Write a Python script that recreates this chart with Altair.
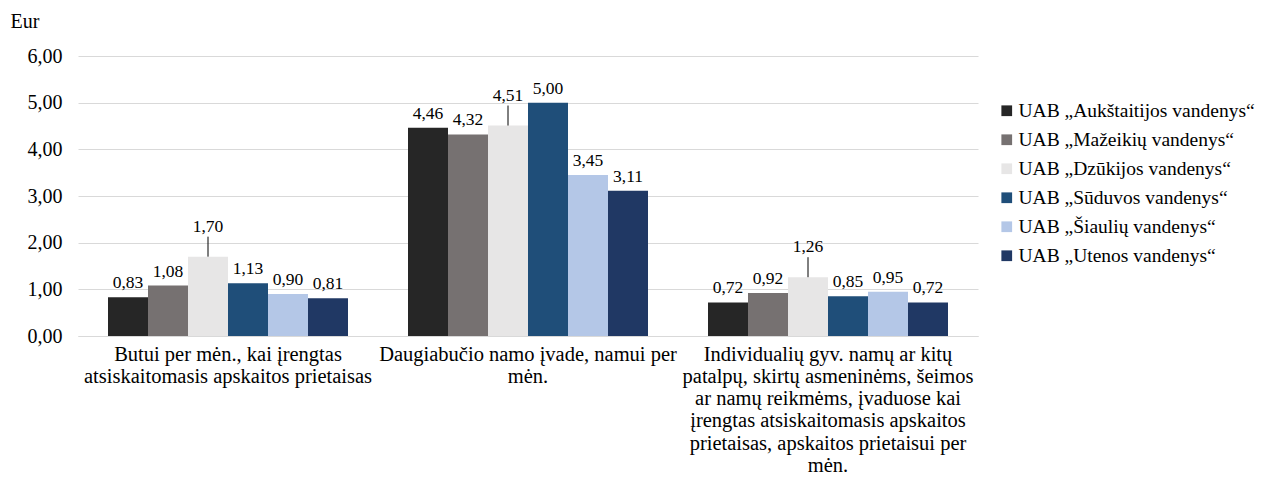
import altair as alt
import pandas as pd

series = [
    "UAB „Aukštaitijos vandenys“",
    "UAB „Mažeikių vandenys“",
    "UAB „Dzūkijos vandenys“",
    "UAB „Sūduvos vandenys“",
    "UAB „Šiaulių vandenys“",
    "UAB „Utenos vandenys“",
]
colors = ["#262626", "#767171", "#e7e6e6", "#1f4e79", "#b4c7e7", "#203864"]

category_lines = [
    ["Butui per mėn., kai įrengtas", "atsiskaitomasis apskaitos prietaisas"],
    ["Daugiabučio namo įvade, namui per", "mėn."],
    ["Individualių gyv. namų ar kitų", "patalpų, skirtų asmeninėms, šeimos",
     "ar namų reikmėms, įvaduose kai", "įrengtas atsiskaitomasis apskaitos",
     "prietaisas, apskaitos prietaisui per", "mėn."],
]
categories = ["|".join(lines) for lines in category_lines]

aukstaitijos = [0.83, 4.46, 0.72]
mazeikiu = [1.08, 4.32, 0.92]
dzukijos = [1.70, 4.51, 1.26]
suduvos = [1.13, 5.00, 0.85]
siauliu = [0.90, 3.45, 0.95]
utenos = [0.81, 3.11, 0.72]
values = [aukstaitijos, mazeikiu, dzukijos, suduvos, siauliu, utenos]

rows = []
for s, vals in zip(series, values):
    for c, v in zip(categories, vals):
        rows.append({"cat": c, "series": s, "value": v})
df = pd.DataFrame(rows)

FONT = "Liberation Serif, Times New Roman, serif"

x = alt.X("cat:N", sort=categories, title=None,
          scale=alt.Scale(paddingInner=0.2, paddingOuter=0.1),
          axis=alt.Axis(labelExpr="split(datum.label, '|')", labelAngle=0,
                        ticks=False, domain=True, domainColor="#d9d9d9",
                        labelPadding=8, labelLineHeight=22.3, labelBaseline="top",
                        labelFont=FONT, labelFontSize=20.5, labelLimit=400))
xo = alt.XOffset("series:N", sort=series,
                 scale=alt.Scale(paddingInner=0, paddingOuter=0))
y = alt.Y("value:Q", scale=alt.Scale(domain=[0, 6]),
          axis=alt.Axis(values=[0, 1, 2, 3, 4, 5, 6], ticks=False, domain=False,
                        labelExpr="replace(format(datum.value, '.2f'), '.', ',')",
                        labelPadding=16, labelFont=FONT, labelFontSize=20,
                        gridColor="#d9d9d9", title="Eur", titleAngle=0,
                        titleAlign="left", titleBaseline="alphabetic",
                        titleX=-68, titleY=-29, titleFont=FONT, titleFontSize=20,
                        titleFontWeight="normal"))

base = alt.Chart(df).transform_calculate(
    label="replace(format(datum.value, '.2f'), '.', ',')"
).encode(x=x, xOffset=xo)

bars = base.mark_bar().encode(
    y=y,
    color=alt.Color("series:N", sort=series,
                    scale=alt.Scale(domain=series, range=colors),
                    legend=alt.Legend(title=None, orient="none", legendX=919,
                                      legendY=45, padding=0, symbolType="square",
                                      symbolSize=115, symbolStrokeWidth=0,
                                      labelFont=FONT, labelFontSize=19.5,
                                      rowPadding=8, labelOffset=2, labelLimit=400)),
)

normal_text = base.transform_filter(
    alt.datum.series != series[2]
).mark_text(dy=-9, baseline="alphabetic", fontSize=17.5, font=FONT, color="#000000").encode(
    y="value:Q", text="label:N")

lifted_text = base.transform_filter(
    alt.datum.series == series[2]
).mark_text(dy=-30, baseline="middle", fontSize=17.5, font=FONT, color="#000000").encode(
    y="value:Q", text="label:N")

leader = base.transform_filter(
    alt.datum.series == series[2]
).mark_rule(color="#000000", strokeWidth=1, y2Offset=-20).encode(
    y="value:Q", y2=alt.Y2("value:Q"))

chart = alt.layer(bars, normal_text, lifted_text, leader).properties(
    width=900, height=280,
    autosize=alt.AutoSizeParams(type="none"),
    padding={"left": 70, "top": 48, "right": 281, "bottom": 140},
).configure(font=FONT).configure_view(stroke=None).configure_axis(
    labelFont=FONT, titleFont=FONT, labelColor="#000000", titleColor="#000000",
).configure_legend(labelFont=FONT, labelColor="#000000")

chart.save("out.html", embed_options={"renderer": "svg", "actions": False})
